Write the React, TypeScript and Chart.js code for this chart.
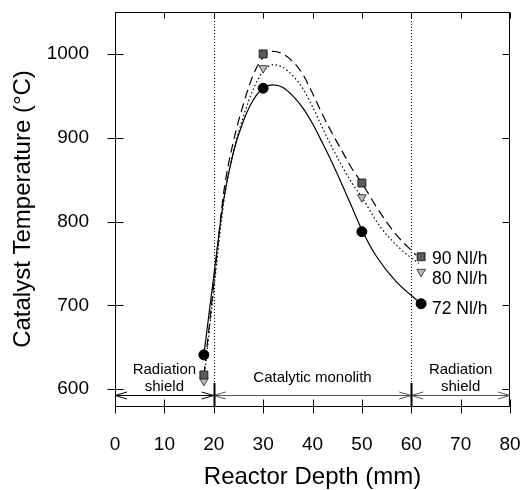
import React, { useEffect, useRef } from "react";
import { Chart, registerables } from "chart.js";

Chart.register(...registerables);

// ---- data ----
const depthMarkers = [18, 30, 50, 62];
const temp90 = [617, 1000, 846, 758];
const temp80 = [610, 983, 829, 740];
const temp72 = [641, 959, 788, 702];

const fit90X = [18, 20, 22, 24, 26, 28, 30, 32, 34, 36, 38, 40, 42, 44, 46, 48, 50, 53, 57, 61];
const fit90Y = [617, 725, 834, 896, 940, 975, 996, 1003, 1000, 991, 976, 953, 928, 905, 884, 863, 846, 817, 784, 760];

const fit80X = [18, 20, 22, 24, 26, 28, 30, 32, 34, 36, 38, 40, 42, 44, 46, 48, 50, 53.7, 57.7, 61.5];
const fit80Y = [610, 718, 822, 884, 925, 958, 979, 987, 984, 974, 959, 937, 912, 888, 866, 846, 829, 794, 768, 750];

const fit72X = [18, 20, 22, 24, 26, 28, 30, 32, 34, 36, 38, 40, 42, 44, 46, 48, 50, 53, 57, 62];
const fit72Y = [641, 735, 826, 883, 920, 945, 959, 963, 960, 950, 936, 917, 894, 870, 844, 817, 790, 758, 728, 702];

const xTicks = [0, 10, 20, 30, 40, 50, 60, 70, 80];
const yTicks = [600, 700, 800, 900, 1000];

const seriesLabels = ["90 Nl/h", "80 Nl/h", "72 Nl/h"];
const seriesLabelDepth = 64.2;
const seriesLabelTemps = [755, 731, 696];

const zoneEdges = [0, 20, 60, 80];
const zoneCenters = [10, 40, 70];
const zoneLabels = [["Radiation", "shield"], ["Catalytic monolith"], ["Radiation", "shield"]];

const FONT = "'Liberation Sans', Arial, Helvetica, sans-serif";

const pts = (xs: number[], ys: number[]) => xs.map((x, i) => ({ x, y: ys[i] }));

const decorations = {
  id: "decorations",
  beforeDatasetsDraw(chart: any) {
    const { ctx, chartArea: a, scales } = chart;
    const x = scales.x;
    ctx.save();
    ctx.strokeStyle = "#000";
    ctx.lineWidth = 1;
    ctx.setLineDash([1, 2]);
    for (const b of [zoneEdges[1], zoneEdges[2]]) {
      const px = Math.round(x.getPixelForValue(b)) + 0.5;
      ctx.beginPath();
      ctx.moveTo(px, a.top);
      ctx.lineTo(px, a.bottom);
      ctx.stroke();
    }
    ctx.restore();
  },
  afterDatasetsDraw(chart: any) {
    const { ctx, chartArea: a, scales } = chart;
    const x = scales.x;
    const y = scales.y;
    ctx.save();
    ctx.setLineDash([]);
    ctx.strokeStyle = "#000";
    ctx.lineWidth = 1;
    // frame
    const L = Math.round(a.left) + 0.5;
    const R = Math.round(a.right) - 0.5;
    const T = Math.round(a.top) + 0.5;
    const B = Math.round(a.bottom) + 0.5;
    ctx.beginPath();
    ctx.rect(L, T, R - L, B - T);
    ctx.stroke();
    // ticks
    ctx.beginPath();
    for (const v of xTicks) {
      const px = Math.round(x.getPixelForValue(v)) + 0.5;
      ctx.moveTo(px, B - 7);
      ctx.lineTo(px, B + 7);
      ctx.moveTo(px, T);
      ctx.lineTo(px, T + 6);
    }
    for (const v of yTicks) {
      const py = Math.round(y.getPixelForValue(v)) + 0.5;
      ctx.moveTo(L - 8, py);
      ctx.lineTo(L + 8, py);
      ctx.moveTo(R - 7, py);
      ctx.lineTo(R, py);
    }
    ctx.stroke();

    // zone arrows
    const ay = Math.round(y.getPixelForValue(593.2)) + 0.5;
    for (let i = 0; i < zoneEdges.length - 1; i++) {
      const x0 = x.getPixelForValue(zoneEdges[i]);
      const x1 = x.getPixelForValue(zoneEdges[i + 1]);
      ctx.strokeStyle = i === 0 ? "#000" : "#555";
      ctx.beginPath();
      ctx.moveTo(x0, ay);
      ctx.lineTo(x1, ay);
      ctx.moveTo(x0 + 12, ay - 3.5);
      ctx.lineTo(x0, ay);
      ctx.lineTo(x0 + 12, ay + 3.5);
      ctx.moveTo(x1 - 12, ay - 3.5);
      ctx.lineTo(x1, ay);
      ctx.lineTo(x1 - 12, ay + 3.5);
      ctx.stroke();
    }
    // thick boundary bars
    ctx.strokeStyle = "#000";
    ctx.lineWidth = 2;
    ctx.beginPath();
    for (const b of [zoneEdges[1], zoneEdges[2]]) {
      const px = Math.round(x.getPixelForValue(b)) + 0.5;
      ctx.moveTo(px, y.getPixelForValue(607.5));
      ctx.lineTo(px, B);
    }
    ctx.stroke();

    // zone labels
    ctx.fillStyle = "#000";
    ctx.font = `15px ${FONT}`;
    ctx.textAlign = "center";
    ctx.textBaseline = "middle";
    zoneLabels.forEach((lines, i) => {
      const px = x.getPixelForValue(zoneCenters[i]);
      if (lines.length === 2) {
        ctx.fillText(lines[0], px, y.getPixelForValue(623));
        ctx.fillText(lines[1], px, y.getPixelForValue(603.3));
      } else {
        ctx.fillText(lines[0], px, y.getPixelForValue(614));
      }
    });

    // series labels
    ctx.font = `17.5px ${FONT}`;
    ctx.textAlign = "left";
    seriesLabels.forEach((t, i) => {
      ctx.fillText(t, x.getPixelForValue(seriesLabelDepth), y.getPixelForValue(seriesLabelTemps[i]));
    });
    ctx.restore();
  },
};

export default function App() {
  const ref = useRef<HTMLCanvasElement | null>(null);
  useEffect(() => {
    if (!ref.current) return;
    Chart.defaults.font.family = FONT;
    const line = (data: any, dash: number[]) => ({
      data,
      showLine: true,
      pointRadius: 0,
      borderColor: "#000",
      borderWidth: 1.2,
      borderDash: dash,
      cubicInterpolationMode: "monotone",
      fill: false,
      order: 1,
    });
    const chart = new Chart(ref.current, {
      type: "scatter",
      data: {
        datasets: [
          line(pts(fit90X, fit90Y), [9, 5]),
          line(pts(fit80X, fit80Y), [1.5, 2.5]),
          line(pts(fit72X, fit72Y), []),
          {
            data: pts(depthMarkers, temp90),
            pointStyle: "rect",
            pointRadius: 5.6,
            backgroundColor: "#5c5c5c",
            borderColor: "#222",
            borderWidth: 1,
            showLine: false,
            order: 0,
          },
          {
            data: pts(depthMarkers, temp80),
            pointStyle: "triangle",
            rotation: 180,
            pointRadius: 5,
            backgroundColor: "#b8b8b8",
            borderColor: "#444",
            borderWidth: 1,
            showLine: false,
            order: 0,
          },
          {
            data: pts(depthMarkers, temp72),
            pointStyle: "circle",
            pointRadius: 5,
            backgroundColor: "#000",
            borderColor: "#000",
            borderWidth: 1,
            showLine: false,
            order: 0,
          },
        ] as any,
      },
      options: {
        animation: false,
        responsive: false,
        devicePixelRatio: 1,
        layout: { padding: { top: 12, right: 14, bottom: 0, left: 0 } },
        plugins: { legend: { display: false }, tooltip: { enabled: false } },
        scales: {
          x: {
            type: "linear",
            min: 0,
            max: 80,
            afterBuildTicks: (s: any) => {
              s.ticks = xTicks.map((v) => ({ value: v }));
            },
            afterFit: (s: any) => {
              s.height = 84;
              s.paddingLeft = 0;
              s.paddingRight = 0;
              s.paddingTop = 0;
              s.paddingBottom = 0;
            },
            grid: { display: false },
            border: { display: false },
            ticks: {
              font: { size: 19 },
              color: "#000",
              padding: 19,
              maxRotation: 0,
              autoSkip: false,
              callback: (v: any) => String(v),
            },
            title: {
              display: true,
              text: "Reactor Depth (mm)",
              color: "#000",
              font: { size: 24, lineHeight: 1 },
              padding: { top: 0, bottom: 1 },
            },
          },
          y: {
            type: "linear",
            min: 580,
            max: 1050,
            afterBuildTicks: (s: any) => {
              s.ticks = yTicks.map((v) => ({ value: v }));
            },
            afterFit: (s: any) => {
              s.width = 115;
              s.paddingLeft = 0;
              s.paddingRight = 0;
              s.paddingTop = 0;
              s.paddingBottom = 0;
            },
            grid: { display: false },
            border: { display: false },
            ticks: { font: { size: 19 }, color: "#000", padding: 18, callback: (v: any) => String(v) },
            title: {
              display: true,
              text: "Catalyst Temperature (°C)",
              color: "#000",
              font: { size: 24, lineHeight: 1 },
              padding: { top: 11, bottom: 0 },
            },
          },
        },
      } as any,
      plugins: [decorations],
    });
    return () => chart.destroy();
  }, []);
  return (
    <div style={{ position: "absolute", left: 0, top: 0, width: 524, height: 490, background: "#fff" }}>
      <canvas ref={ref} width={524} height={490} style={{ display: "block", width: 524, height: 490 }} />
    </div>
  );
}
